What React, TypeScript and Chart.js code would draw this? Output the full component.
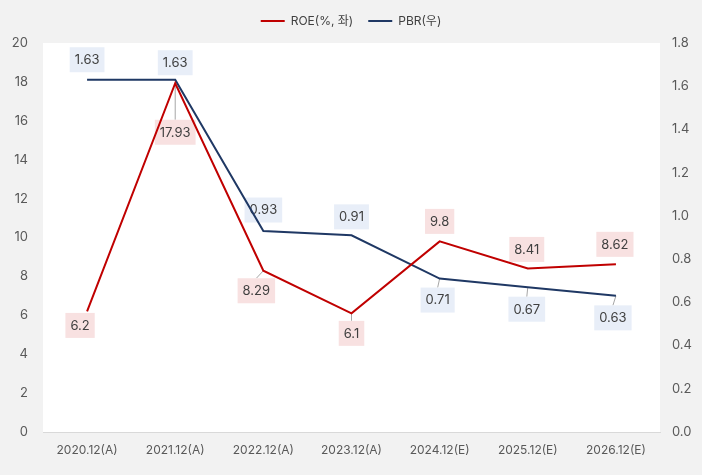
import React, { useEffect, useRef } from "react";
import { Chart, registerables } from "chart.js";

Chart.register(...registerables);

const categories = ["2020.12(A)", "2021.12(A)", "2022.12(A)", "2023.12(A)", "2024.12(E)", "2025.12(E)", "2026.12(E)"];
const roeValues = [6.2, 17.93, 8.29, 6.1, 9.8, 8.41, 8.62];
const pbrValues = [1.63, 1.63, 0.93, 0.91, 0.71, 0.67, 0.63];
const roeLabel = "ROE(%, 좌)";
const pbrLabel = "PBR(우)";

// label offsets (px, label center relative to point)
const roeLabelDx = [-7, 0, -7, 0, 0, -1, -1];
const roeLabelDy = [14, 49, 20, 20, -20, -19, -20];
const pbrLabelDx = [0, 0, 0, 0, -2, -1, -3];
const pbrLabelDy = [-20, -17, -21, -18.5, 21.5, 22, 22];

const FONT = "Inter, 'Noto Sans CJK KR', sans-serif";
const RED = "#c00000";
const NAVY = "#1f3864";

const legendPad = {
  id: "legendPad",
  beforeInit(chart: any) {
    const lg = chart.legend;
    if (!lg) return;
    const orig = lg.fit;
    lg.fit = function () {
      orig.call(this);
      this.height += 6;
    };
  },
};

const bgPlugin = {
  id: "bgPlugin",
  beforeDraw(chart: any) {
    const { ctx, chartArea, width, height } = chart;
    ctx.save();
    ctx.fillStyle = "#f2f2f2";
    ctx.fillRect(0, 0, width, height);
    ctx.fillStyle = "#ffffff";
    ctx.fillRect(chartArea.left, chartArea.top, chartArea.right - chartArea.left, chartArea.bottom - chartArea.top);
    ctx.restore();
  },
};

const labelPlugin = {
  id: "labelPlugin",
  beforeDatasetsDraw(chart: any) {
    const { ctx } = chart;
    const sets = [
      { idx: 0, dx: roeLabelDx, dy: roeLabelDy, bg: "#f8e1e1", fmt: (v: number) => String(v) },
      { idx: 1, dx: pbrLabelDx, dy: pbrLabelDy, bg: "#e8eef8", fmt: (v: number) => v.toFixed(2) },
    ];
    ctx.save();
    ctx.font = `13px ${FONT}`;
    ctx.textAlign = "center";
    ctx.textBaseline = "middle";
    for (const s of sets) {
      const meta = chart.getDatasetMeta(s.idx);
      const data = chart.data.datasets[s.idx].data as number[];
      meta.data.forEach((pt: any, i: number) => {
        const text = s.fmt(data[i]);
        const w = ctx.measureText(text).width + 10;
        const h = 25;
        const cx = pt.x + s.dx[i];
        const cy = pt.y + s.dy[i];
        const top = cy - h / 2;
        if (s.dy[i] > 0 && top - pt.y > 2) {
          ctx.strokeStyle = "#a6a6a6";
          ctx.lineWidth = 1;
          ctx.beginPath();
          ctx.moveTo(pt.x, pt.y);
          ctx.lineTo(cx, top);
          ctx.stroke();
        }
        ctx.fillStyle = s.bg;
        ctx.fillRect(cx - w / 2, top, w, h);
        ctx.fillStyle = "#404040";
        ctx.fillText(text, cx, cy + 0.5);
      });
    }
    ctx.restore();
  },
};

export default function App() {
  const ref = useRef<HTMLCanvasElement>(null);
  useEffect(() => {
    if (!ref.current) return;
    const chart = new Chart(ref.current, {
      type: "line",
      data: {
        labels: categories,
        datasets: [
          {
            label: roeLabel,
            data: roeValues,
            borderColor: RED,
            backgroundColor: RED,
            borderWidth: 2,
            pointRadius: 0,
            yAxisID: "y",
            tension: 0,
          },
          {
            label: pbrLabel,
            data: pbrValues,
            borderColor: NAVY,
            backgroundColor: NAVY,
            borderWidth: 2,
            pointRadius: 0,
            yAxisID: "y1",
            tension: 0,
          },
        ],
      },
      options: {
        animation: false,
        responsive: false,
        maintainAspectRatio: false,
        layout: { padding: { top: 0, left: 0, right: 0, bottom: 0 } },
        plugins: {
          tooltip: { enabled: false },
          legend: {
            position: "top",
            labels: {
              usePointStyle: true,
              pointStyle: "line",
              pointStyleWidth: 24,
              color: "#404040",
              font: { family: FONT, size: 12 },
              padding: 15,
              boxHeight: 12,
            },
          },
        },
        scales: {
          x: {
            offset: true,
            grid: { display: false, drawTicks: false, offset: true },
            border: { display: true, color: "#d9d9d9", width: 1 },
            ticks: { color: "#595959", font: { family: FONT, size: 12 }, padding: 11, maxRotation: 0 },
            afterFit: (s: any) => { s.height = 43; },
          },
          y: {
            position: "left",
            min: 0,
            max: 20,
            grid: { display: false, drawTicks: false },
            border: { display: false },
            ticks: { stepSize: 2, color: "#595959", font: { family: FONT, size: 13 }, padding: 15 },
            afterFit: (s: any) => { s.width = 43; },
          },
          y1: {
            position: "right",
            min: 0,
            max: 1.8,
            grid: { display: false, drawTicks: false },
            border: { display: false },
            ticks: {
              stepSize: 0.2,
              color: "#595959",
              font: { family: FONT, size: 13 },
              padding: 12,
              callback: (v: any) => Number(v).toFixed(1),
            },
            afterFit: (s: any) => { s.width = 42; },
          },
        },
      },
      plugins: [legendPad, bgPlugin, labelPlugin],
    });
    return () => chart.destroy();
  }, []);
  return (
    <div style={{ position: "fixed", left: 0, top: 0, width: 702, height: 475, background: "#f2f2f2" }}>
      <canvas ref={ref} width={702} height={475} style={{ width: 702, height: 475, display: "block" }} />
    </div>
  );
}
